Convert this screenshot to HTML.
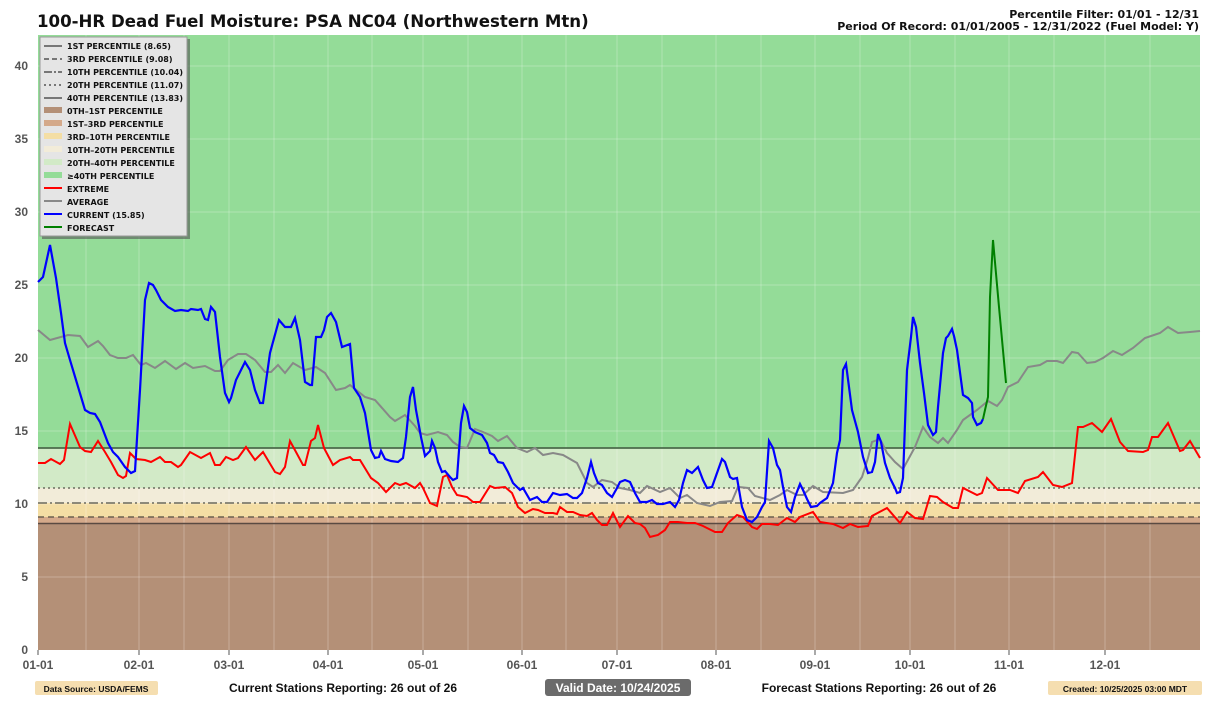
<!DOCTYPE html>
<html><head><meta charset="utf-8"><style>
body{margin:0;background:#fff;width:1209px;height:703px;overflow:hidden;font-family:"Liberation Sans",sans-serif}
svg{position:absolute;left:0;top:0}
</style></head><body>
<svg width="1209" height="703" xmlns="http://www.w3.org/2000/svg" font-family="Liberation Sans, DejaVu Sans, sans-serif">
<text x="37" y="27" font-size="16.6" font-weight="bold" fill="#111" font-family="DejaVu Sans, sans-serif">100-HR Dead Fuel Moisture: PSA NC04 (Northwestern Mtn)</text>
<text x="1199" y="18" font-size="11" font-weight="bold" text-anchor="end" fill="#111" font-family="DejaVu Sans, sans-serif">Percentile Filter: 01/01 - 12/31</text>
<text x="1199" y="30" font-size="11" font-weight="bold" text-anchor="end" fill="#111" font-family="DejaVu Sans, sans-serif">Period Of Record: 01/01/2005 - 12/31/2022 (Fuel Model: Y)</text>
<!-- bands -->
<rect x="38" y="35" width="1162" height="413" fill="#94dc98"/>
<rect x="38" y="448" width="1162" height="40" fill="#d2eac7"/>
<rect x="38" y="488" width="1162" height="15" fill="#f2ecd9"/>
<rect x="38" y="503" width="1162" height="14" fill="#f4dea4"/>
<rect x="38" y="517" width="1162" height="7" fill="#d4a98a"/>
<rect x="38" y="524" width="1162" height="126" fill="#b49077"/>
<!-- grid -->
<g stroke="#ffffff" stroke-opacity="0.25" stroke-width="1">
<line x1="38" x2="1200" y1="577" y2="577"/><line x1="38" x2="1200" y1="504" y2="504"/><line x1="38" x2="1200" y1="431" y2="431"/><line x1="38" x2="1200" y1="358" y2="358"/><line x1="38" x2="1200" y1="285" y2="285"/><line x1="38" x2="1200" y1="212" y2="212"/><line x1="38" x2="1200" y1="139" y2="139"/><line x1="38" x2="1200" y1="66" y2="66"/>
<line y1="35" y2="650" x1="86" x2="86"/><line y1="35" y2="650" x1="139" x2="139"/><line y1="35" y2="650" x1="184" x2="184"/><line y1="35" y2="650" x1="229" x2="229"/><line y1="35" y2="650" x1="274" x2="274"/><line y1="35" y2="650" x1="328" x2="328"/><line y1="35" y2="650" x1="372" x2="372"/><line y1="35" y2="650" x1="423" x2="423"/><line y1="35" y2="650" x1="468" x2="468"/><line y1="35" y2="650" x1="522" x2="522"/><line y1="35" y2="650" x1="566" x2="566"/><line y1="35" y2="650" x1="617" x2="617"/><line y1="35" y2="650" x1="662" x2="662"/><line y1="35" y2="650" x1="716" x2="716"/><line y1="35" y2="650" x1="761" x2="761"/><line y1="35" y2="650" x1="815" x2="815"/><line y1="35" y2="650" x1="860" x2="860"/><line y1="35" y2="650" x1="910" x2="910"/><line y1="35" y2="650" x1="955" x2="955"/><line y1="35" y2="650" x1="1009" x2="1009"/><line y1="35" y2="650" x1="1054" x2="1054"/><line y1="35" y2="650" x1="1105" x2="1105"/><line y1="35" y2="650" x1="1150" x2="1150"/>
</g>
<!-- percentile lines -->
<line x1="38" x2="1200" y1="523.5" y2="523.5" stroke="#5a4a42" stroke-width="1.5"/>
<line x1="38" x2="1200" y1="517" y2="517" stroke="#6b6150" stroke-width="1.5" stroke-dasharray="6,4"/>
<line x1="38" x2="1200" y1="503" y2="503" stroke="#6b6a5e" stroke-width="1.5" stroke-dasharray="9,3,2,3"/>
<line x1="38" x2="1200" y1="488" y2="488" stroke="#6b6e60" stroke-width="1.5" stroke-dasharray="2,3"/>
<line x1="38" x2="1200" y1="448" y2="448" stroke="#4b6a4b" stroke-width="1.8"/>
<!-- average -->
<polyline fill="none" stroke="#888" stroke-width="2" points="38,330 50,340 68,335 80,336 88,347 98,341 103,346 110,355 118,358 126,358 133,355 141,365 146,363 155,368 165,361 176,369 185,363 193,368 205,366 215,371 220,371 228,360 238,354 246,354 255,360 265,372 271,372 278,365 285,373 293,363 305,370 316,367 325,373 336,390 345,388 350,385 355,389 365,397 375,400 390,417 395,421 405,415 415,426 420,433 427,435 438,432 447,435 453,442 460,447 467,448 475,429 483,432 492,436 498,441 507,436 517,448 527,452 535,448 543,455 553,453 563,455 577,463 587,483 593,487 602,480 612,482 620,488 630,490 640,493 647,486 660,492 670,488 680,498 687,495 697,503 710,506 720,502 732,501 738,487 748,488 755,496 770,500 780,495 787,490 797,495 803,495 813,486 823,492 843,493 853,490 862,477 868,458 872,442 880,439 887,453 895,462 903,469 915,447 923,427 930,437 938,443 943,438 948,443 957,430 963,420 977,410 988,401 997,406 1002,400 1008,387 1018,382 1028,367 1040,365 1047,361 1057,361 1063,363 1072,352 1078,353 1087,363 1095,362 1103,358 1113,351 1122,355 1133,348 1145,338 1160,333 1168,327 1178,333 1190,332 1200,331"/>
<!-- extreme -->
<polyline fill="none" stroke="#ff0000" stroke-width="2" points="38,463 45,463 51,459 60,464 64,460 70,424 80,447 85,451 91,452 98,441 105,452 111,462 118,475 123,478 126,476 130,453 136,459 145,460 151,462 160,457 165,462 171,462 178,467 181,465 190,452 201,458 210,453 215,465 220,465 226,457 233,460 238,458 246,447 255,460 263,452 275,472 280,474 285,467 290,441 296,452 303,465 305,465 311,441 315,438 318,425 324,448 333,465 340,460 350,457 353,460 360,460 371,478 378,483 386,492 395,483 400,485 406,483 415,488 420,483 423,488 430,503 437,506 443,477 447,475 452,487 457,495 467,497 473,502 480,502 490,486 495,488 505,487 512,493 518,507 525,513 533,509 538,510 545,513 553,513 557,514 560,507 567,512 573,512 580,515 587,516 592,513 597,520 602,525 607,525 613,513 620,527 628,516 635,523 640,524 645,528 650,537 658,535 665,530 670,522 678,522 687,523 695,523 703,526 715,532 722,532 728,523 737,515 743,517 752,527 757,529 762,524 770,524 778,525 787,518 795,522 800,517 813,512 820,522 833,524 843,528 850,524 858,527 868,526 872,516 887,508 900,523 907,512 915,518 923,519 930,496 937,497 943,502 953,508 958,508 963,488 977,495 982,493 987,478 998,490 1010,490 1018,493 1025,481 1038,477 1043,472 1053,485 1062,487 1072,483 1078,427 1083,427 1092,423 1102,432 1111,419 1120,442 1128,451 1143,452 1148,450 1152,437 1158,437 1168,423 1180,451 1183,450 1190,441 1200,458"/>
<!-- current -->
<polyline fill="none" stroke="#0000ff" stroke-width="2.2" points="38,282 43,277 50,245 56,278 61,313 65,343 70,360 76,380 85,410 90,413 95,414 100,422 108,443 113,452 118,457 125,467 131,473 135,471 140,390 145,300 149,283 153,285 156,290 161,300 168,307 175,311 181,310 188,311 191,309 198,310 201,309 205,319 208,320 211,307 215,312 220,357 225,393 229,402 231,398 236,380 245,362 250,370 255,390 260,403 263,403 270,353 279,320 285,327 291,327 295,318 300,340 305,382 310,385 312,385 316,337 321,337 324,330 327,317 331,313 336,322 342,347 350,344 354,388 360,397 365,413 371,450 375,458 379,457 381,451 385,459 391,461 398,462 403,458 406,437 410,397 413,387 416,410 421,437 425,456 430,451 432,441 435,448 438,462 442,472 445,471 450,477 453,480 457,478 461,423 464,406 467,412 470,428 475,432 482,435 487,443 490,453 494,455 498,462 503,463 508,472 513,483 520,490 523,488 530,500 537,497 542,502 547,502 553,493 560,495 567,494 573,498 577,498 582,493 587,478 591,462 594,473 598,483 602,485 607,493 612,497 617,488 620,482 625,480 630,482 635,493 640,502 647,502 652,500 657,504 663,504 670,502 675,507 679,500 683,483 687,470 692,473 698,467 703,480 707,488 712,487 717,473 722,459 725,462 730,477 733,479 737,478 742,507 747,520 752,522 757,517 762,507 765,502 769,441 773,448 777,465 780,470 783,487 787,507 791,512 795,497 800,484 803,490 807,499 811,507 817,506 820,503 827,498 833,483 837,453 840,440 843,370 846,364 852,410 858,432 863,457 868,473 872,472 875,462 878,434 881,442 885,463 890,478 895,488 897,493 900,492 903,478 907,370 911,337 913,317 916,327 920,363 924,393 928,425 933,435 936,432 938,407 943,353 946,338 948,336 952,329 954,336 957,350 961,380 963,395 968,398 972,403 973,417 977,425 981,423 983,419"/>
<!-- forecast -->
<polyline fill="none" stroke="#008000" stroke-width="2" points="983,419 985,410 988,397 990,297 993,240 999,307 1006,383"/>
<!-- axes ticks -->
<g font-size="12" font-weight="bold" fill="#555" text-anchor="end">
<text x="28" y="654">0</text><text x="28" y="581">5</text><text x="28" y="508">10</text><text x="28" y="435">15</text><text x="28" y="362">20</text><text x="28" y="289">25</text><text x="28" y="216">30</text><text x="28" y="143">35</text><text x="28" y="70">40</text>
</g>
<g stroke="#555"><line x1="38" x2="38" y1="650" y2="655"/><line x1="139" x2="139" y1="650" y2="655"/><line x1="229" x2="229" y1="650" y2="655"/><line x1="328" x2="328" y1="650" y2="655"/><line x1="423" x2="423" y1="650" y2="655"/><line x1="522" x2="522" y1="650" y2="655"/><line x1="617" x2="617" y1="650" y2="655"/><line x1="716" x2="716" y1="650" y2="655"/><line x1="815" x2="815" y1="650" y2="655"/><line x1="910" x2="910" y1="650" y2="655"/><line x1="1009" x2="1009" y1="650" y2="655"/><line x1="1105" x2="1105" y1="650" y2="655"/></g>
<g font-size="12" font-weight="bold" fill="#555" text-anchor="middle">
<text x="38" y="669">01-01</text><text x="139" y="669">02-01</text><text x="229" y="669">03-01</text><text x="328" y="669">04-01</text><text x="423" y="669">05-01</text><text x="522" y="669">06-01</text><text x="617" y="669">07-01</text><text x="716" y="669">08-01</text><text x="815" y="669">09-01</text><text x="910" y="669">10-01</text><text x="1009" y="669">11-01</text><text x="1105" y="669">12-01</text>
</g>
<!-- legend -->
<rect x="42" y="39" width="148" height="200" fill="#555" opacity="0.6"/>
<rect x="40" y="37" width="147" height="199" fill="#e5e5e5" stroke="#999" stroke-width="1"/>
<g stroke-width="2">
<line x1="44" x2="62" y1="46" y2="46" stroke="#777"/>
<line x1="44" x2="62" y1="59" y2="59" stroke="#777" stroke-dasharray="5,3"/>
<line x1="44" x2="62" y1="72" y2="72" stroke="#777" stroke-dasharray="8,2,2,2"/>
<line x1="44" x2="62" y1="85" y2="85" stroke="#777" stroke-dasharray="2,3"/>
<line x1="44" x2="62" y1="98" y2="98" stroke="#777"/>
</g>
<rect x="44" y="107" width="18" height="6" fill="#b49077"/>
<rect x="44" y="120" width="18" height="6" fill="#d4a98a"/>
<rect x="44" y="133" width="18" height="6" fill="#f4dea4"/>
<rect x="44" y="146" width="18" height="6" fill="#f2ecd9"/>
<rect x="44" y="159" width="18" height="6" fill="#d2eac7"/>
<rect x="44" y="172" width="18" height="6" fill="#94dc98"/>
<g stroke-width="2"><line x1="44" x2="62" y1="188" y2="188" stroke="#f00"/><line x1="44" x2="62" y1="201" y2="201" stroke="#888"/><line x1="44" x2="62" y1="214" y2="214" stroke="#00f"/><line x1="44" x2="62" y1="227" y2="227" stroke="#008000"/></g>
<g font-size="8" font-weight="bold" fill="#111" font-family="DejaVu Sans, sans-serif">
<text x="67" y="49">1ST PERCENTILE (8.65)</text><text x="67" y="62">3RD PERCENTILE (9.08)</text><text x="67" y="75">10TH PERCENTILE (10.04)</text><text x="67" y="88">20TH PERCENTILE (11.07)</text><text x="67" y="101">40TH PERCENTILE (13.83)</text><text x="67" y="114">0TH–1ST PERCENTILE</text><text x="67" y="127">1ST–3RD PERCENTILE</text><text x="67" y="140">3RD–10TH PERCENTILE</text><text x="67" y="153">10TH–20TH PERCENTILE</text><text x="67" y="166">20TH–40TH PERCENTILE</text><text x="67" y="179">≥40TH PERCENTILE</text><text x="67" y="192">EXTREME</text><text x="67" y="205">AVERAGE</text><text x="67" y="218">CURRENT (15.85)</text><text x="67" y="231">FORECAST</text>
</g>
<!-- footer -->
<rect x="35" y="681" width="123" height="14" rx="2" fill="#f5deb0"/>
<text x="96" y="692" font-size="8.5" font-weight="bold" text-anchor="middle" fill="#111">Data Source: USDA/FEMS</text>
<text x="343" y="692" font-size="12" font-weight="bold" text-anchor="middle" fill="#111">Current Stations Reporting: 26 out of 26</text>
<rect x="545" y="679" width="146" height="17" rx="3" fill="#6b6b6b"/>
<text x="618" y="692" font-size="12" font-weight="bold" text-anchor="middle" fill="#fff">Valid Date: 10/24/2025</text>
<text x="879" y="692" font-size="12" font-weight="bold" text-anchor="middle" fill="#111">Forecast Stations Reporting: 26 out of 26</text>
<rect x="1048" y="681" width="154" height="14" rx="2" fill="#f5deb0"/>
<text x="1125" y="692" font-size="8.5" font-weight="bold" text-anchor="middle" fill="#111">Created: 10/25/2025 03:00 MDT</text>
</svg>
</body></html>
